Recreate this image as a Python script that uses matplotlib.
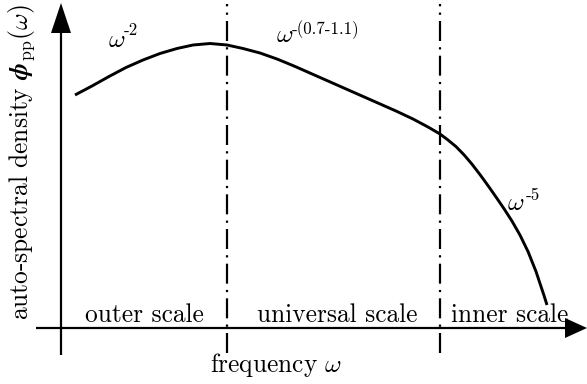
import matplotlib
matplotlib.use("Agg")
import matplotlib.pyplot as plt
from matplotlib.patches import FancyArrow

plt.rcParams["mathtext.fontset"] = "cm"
plt.rcParams["font.family"] = ["cmr10", "DejaVu Serif"]
plt.rcParams["axes.unicode_minus"] = False

W, H = 587, 384

# Schematic spectrum shape: frequency coordinate and density coordinate
freq = [75, 92, 109, 126, 143, 160, 177, 193, 210, 227, 243, 260, 277, 294,
        311, 328, 345, 362, 379, 396, 413, 428, 440, 448, 456, 464, 472, 480,
        488, 496, 504, 512, 520, 528, 536, 544, 547]
density = [289, 298, 307.5, 316.5, 324, 330.5, 335.5, 339, 340.5, 339,
           335.5, 331, 325, 318, 310.5, 303, 295.5, 288, 280.5, 273, 265,
           257, 250, 244, 237.4, 229.2, 219.8, 209.4, 198.4, 187, 175.3,
           162.9, 148.9, 132.5, 112.5, 88.5, 79]

# Boundaries between the scale ranges
boundaries = [227, 440]
range_labels = ["outer scale", "universal scale", "inner scale"]
range_centers = [144, 337, 510]

# Power-law annotations: base symbol position and exponent position
slope_exponents = ["-2", "-(0.7-1.1)", "-5"]
slope_base_xy = [(108, 337), (276, 342), (507, 174)]
slope_exp_xy = [(124, 349), (292, 350), (526, 184)]

fig = plt.figure(figsize=(W / 100, H / 100), dpi=100)
ax = fig.add_axes([0, 0, 1, 1])
ax.set_xlim(0, W)
ax.set_ylim(0, H)
ax.axis("off")

origin_x, origin_y = 61, 56

# Axes with arrow heads
ax.plot([origin_x, origin_x], [29, 352], color="black", lw=1.6,
        solid_capstyle="butt")
ax.add_patch(FancyArrow(origin_x, 350, 0, 31, width=0, head_width=20,
                        head_length=30, length_includes_head=True,
                        color="black", lw=0))
ax.plot([36, 568], [origin_y, origin_y], color="black", lw=1.6,
        solid_capstyle="butt")
ax.add_patch(FancyArrow(565, origin_y, 22, 0, width=0, head_width=20,
                        head_length=22, length_includes_head=True,
                        color="black", lw=0))

# Range boundaries
for bx in boundaries:
    ln, = ax.plot([bx, bx], [31, 380], color="black", lw=1.6)
    ln.set_dashes([9.0, 2.8, 1.0, 2.8])

# Spectrum curve
ax.plot(freq, density, color="black", lw=2.1, solid_capstyle="butt",
        solid_joinstyle="round")

fs = 18.3
for lbl, cx in zip(range_labels, range_centers):
    ax.text(cx, 62, lbl, ha="center", va="baseline", fontsize=fs)

for sup, (bx, by), (sx, sy) in zip(slope_exponents, slope_base_xy,
                                   slope_exp_xy):
    ax.text(bx, by, r"$\omega$", ha="left", va="baseline", fontsize=fs)
    ax.text(sx, sy, sup, ha="left", va="baseline", fontsize=12.2)

ax.text(276, 12, r"frequency $\omega$", ha="center", va="baseline",
        fontsize=fs)
ax.text(22, 222, r"auto-spectral density $\boldsymbol{\phi}_{\mathrm{pp}}(\omega)$",
        ha="center", va="center", rotation=90, fontsize=fs)

fig.savefig("out.png", dpi=100)
